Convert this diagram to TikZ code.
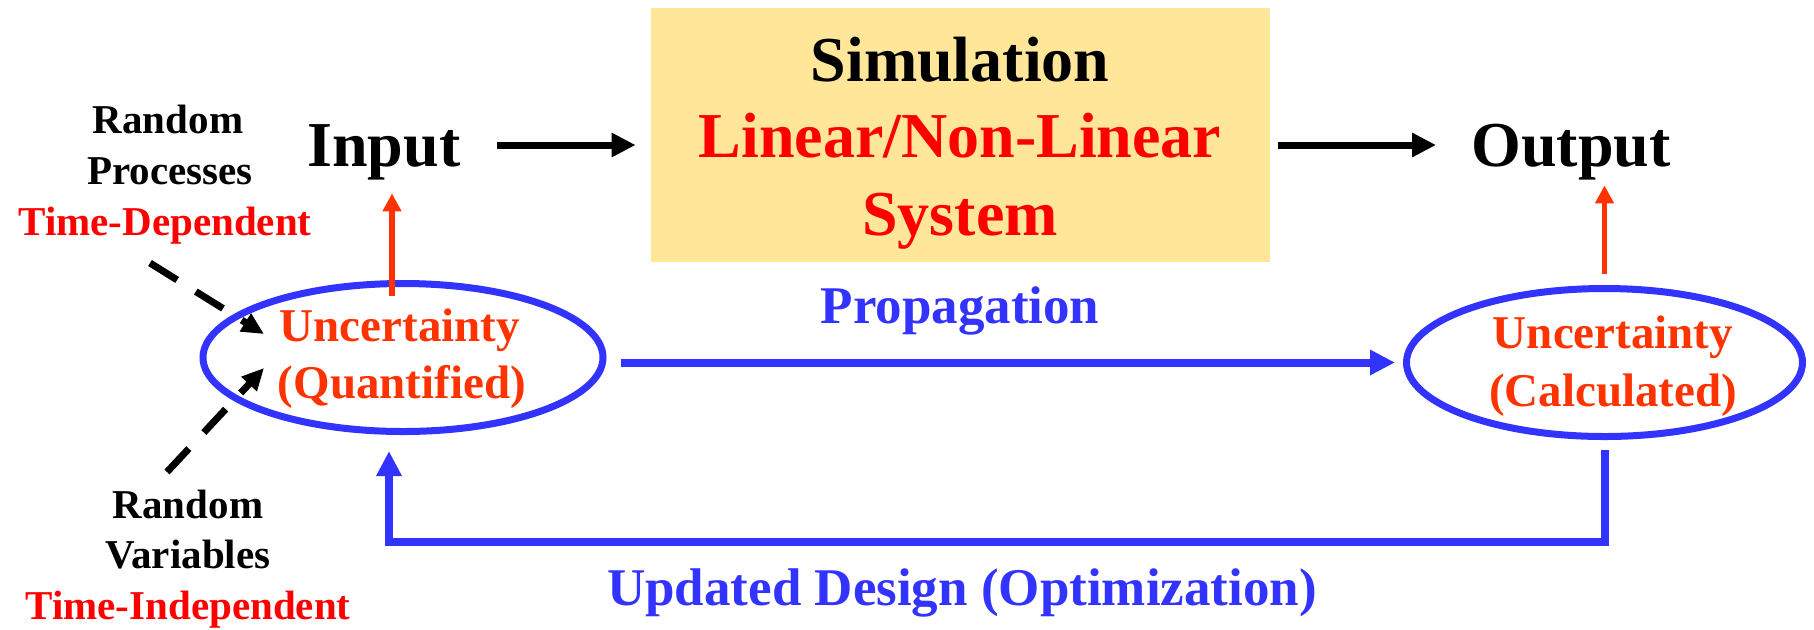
\documentclass[tikz,border=0pt]{standalone}
\usepackage{fontspec}
\setmainfont{Liberation Serif}
\usetikzlibrary{arrows.meta,shapes.geometric}
\definecolor{boxyellow}{HTML}{FFE699}
\definecolor{txtred}{HTML}{FF0000}
\definecolor{uncred}{HTML}{FF3300}
\definecolor{myblue}{HTML}{3333FF}
\begin{document}
\begin{tikzpicture}[x=0.5pt,y=-0.5pt,
  every node/.style={inner sep=0pt},
  big/.style={font=\bfseries\fontsize{32}{38}\selectfont},
  mid/.style={font=\bfseries\fontsize{26.5}{32}\selectfont, text=myblue},
  unc/.style={font=\bfseries\fontsize{23.5}{28}\selectfont, text=uncred},
  sml/.style={font=\bfseries\fontsize{20.5}{25}\selectfont},
  ell/.style={ellipse, draw=myblue, line width=3.5pt, minimum width=200pt, minimum height=74pt},
  blk/.style={draw=black, line width=3.5pt, -{Triangle[length=12pt,width=11.5pt]}},
  bluearr/.style={draw=myblue, line width=4pt, -{Triangle[length=12.5pt,width=12pt]}},
  reda/.style={draw=uncred, line width=2.75pt, -{Triangle[length=9pt,width=9pt]}},
  dsh/.style={draw=black, line width=3.5pt, dash pattern=on 16pt off 11pt, -{Triangle[length=11pt,width=10pt]}}
]
\useasboundingbox (0,0) rectangle (1814,629);

% simulation box
\node[fill=boxyellow, minimum width=309.5pt, minimum height=127pt] (sim) at (960.5,134.5) {};
\node[big, anchor=base] (simt1) at (960,81) {Simulation};
\node[big, anchor=base, text=txtred] (simt2) at (960,157) {Linear/Non-Linear};
\node[big, anchor=base, text=txtred] (simt3) at (960,235) {System};

% input / output
\node[big, text height=21pt, text depth=0pt] (input) at (384,145) {Input};
\node[big, text height=21pt, text depth=0pt] (output) at (1571,145) {Output};

\draw[blk, shorten <=18pt, shorten >=7.5pt] (input.east) -- (sim.west |- input.east);
\draw[blk, shorten <=4pt, shorten >=17.5pt] (sim.east |- output.west) -- (output.west);

% ellipses
\node[ell] (uq) at (403,357.5) {};
\node[ell, minimum width=198pt] (uc) at (1604.5,362.5) {};
\node[unc, anchor=base] (uq1) at (400,341) {Uncertainty};
\node[unc, anchor=base] (uq2) at (402,398) {(Quantified)};
\node[unc, anchor=base] (uc1) at (1613,348) {Uncertainty};
\node[unc, anchor=base] (uc2) at (1613,406) {(Calculated)};

% red arrows
\coordinate (qa) at (392,296);
\draw[reda, shorten >=13.5pt] (qa) -- (qa |- input.south);
\draw[reda, shorten <=5.75pt, shorten >=9.5pt] (uc.north) -- (uc.north |- output.south);

% propagation
\node[mid, anchor=base] (prop) at (960,323) {Propagation};
\draw[bluearr, shorten <=7pt, shorten >=4pt] (uq.east |- uc.west) -- (uc.west);

% feedback
\coordinate (fb) at (389,542);
\draw[bluearr, shorten <=5pt, shorten >=8pt] (uc.south) |- (fb) -- (fb |- uq.south);
\node[mid, anchor=base] (upd) at (962,605) {Updated Design (Optimization)};

% left texts
\node[sml, anchor=base] (rp1) at (168,133) {Random};
\node[sml, anchor=base] (rp2) at (170,184) {Processes};
\node[sml, anchor=base, text=txtred] (rp3) at (165,235) {Time-Dependent};
\node[sml, anchor=base] (rv1) at (188,518) {Random};
\node[sml, anchor=base] (rv2) at (188,568) {Variables};
\node[sml, anchor=base, text=txtred] (rv3) at (188,619) {Time-Independent};

% dashed arrows
\coordinate (dp0) at (150,263);
\coordinate (dp1) at (264,334);
\draw[dsh] (dp0) -- (dp1);
\coordinate (dv0) at (167,472);
\coordinate (dv1) at (264,368);
\draw[dsh] (dv0) -- (dv1);
\end{tikzpicture}
\end{document}
